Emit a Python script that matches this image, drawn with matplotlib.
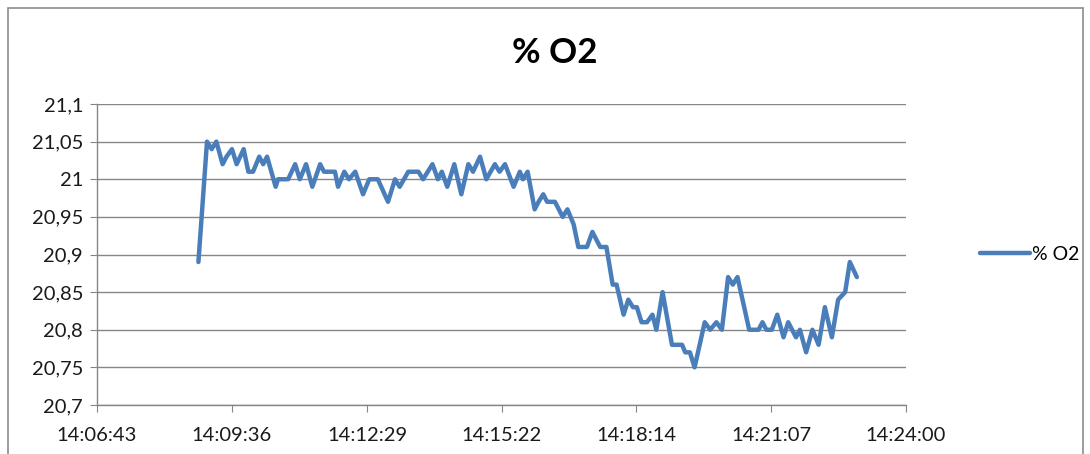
import matplotlib.pyplot as plt
from matplotlib.ticker import FixedLocator, FuncFormatter
from matplotlib.patches import Rectangle

# Messwerte O2-Sensor
zeit = [
    "14:08:53", "14:09:04", "14:09:10", "14:09:16", "14:09:24", "14:09:29",
    "14:09:36", "14:09:42", "14:09:51", "14:09:57", "14:10:03", "14:10:11",
    "14:10:16", "14:10:21", "14:10:32", "14:10:35", "14:10:48", "14:10:57",
    "14:11:03", "14:11:11", "14:11:19", "14:11:29", "14:11:34", "14:11:48",
    "14:11:52", "14:12:00", "14:12:06", "14:12:14", "14:12:24", "14:12:32",
    "14:12:43", "14:12:56", "14:13:05", "14:13:11", "14:13:22", "14:13:35",
    "14:13:41", "14:13:53", "14:14:00", "14:14:05", "14:14:12", "14:14:21",
    "14:14:30", "14:14:39", "14:14:45", "14:14:54", "14:15:02", "14:15:13",
    "14:15:19", "14:15:26", "14:15:37", "14:15:45", "14:15:49", "14:15:55",
    "14:16:04", "14:16:09", "14:16:15", "14:16:20", "14:16:30", "14:16:40",
    "14:16:46", "14:16:54", "14:17:00", "14:17:11", "14:17:18", "14:17:28",
    "14:17:36", "14:17:44", "14:17:49", "14:17:58", "14:18:04", "14:18:10",
    "14:18:15", "14:18:21", "14:18:28", "14:18:35", "14:18:40", "14:18:48",
    "14:19:00", "14:19:13", "14:19:17", "14:19:23", "14:19:29", "14:19:42",
    "14:19:49", "14:19:57", "14:20:04", "14:20:12", "14:20:18", "14:20:24",
    "14:20:39", "14:20:51", "14:20:56", "14:21:01", "14:21:08", "14:21:15",
    "14:21:23", "14:21:29", "14:21:39", "14:21:44", "14:21:52", "14:22:00",
    "14:22:08", "14:22:16", "14:22:25", "14:22:33", "14:22:42", "14:22:48",
    "14:22:57",
]
o2 = [
    20.89, 21.05, 21.04, 21.05, 21.02, 21.03,
    21.04, 21.02, 21.04, 21.01, 21.01, 21.03,
    21.02, 21.03, 20.99, 21.00, 21.00, 21.02,
    21.00, 21.02, 20.99, 21.02, 21.01, 21.01,
    20.99, 21.01, 21.00, 21.01, 20.98, 21.00,
    21.00, 20.97, 21.00, 20.99, 21.01, 21.01,
    21.00, 21.02, 21.00, 21.01, 20.99, 21.02,
    20.98, 21.02, 21.01, 21.03, 21.00, 21.02,
    21.01, 21.02, 20.99, 21.01, 21.00, 21.01,
    20.96, 20.97, 20.98, 20.97, 20.97, 20.95,
    20.96, 20.94, 20.91, 20.91, 20.93, 20.91,
    20.91, 20.86, 20.86, 20.82, 20.84, 20.83,
    20.83, 20.81, 20.81, 20.82, 20.80, 20.85,
    20.78, 20.78, 20.77, 20.77, 20.75, 20.81,
    20.80, 20.81, 20.80, 20.87, 20.86, 20.87,
    20.80, 20.80, 20.81, 20.80, 20.80, 20.82,
    20.79, 20.81, 20.79, 20.80, 20.77, 20.80,
    20.78, 20.83, 20.79, 20.84, 20.85, 20.89,
    20.87,
]
x_ticks = ["14:06:43", "14:09:36", "14:12:29", "14:15:22", "14:18:14", "14:21:07", "14:24:00"]
y_ticks = [20.7, 20.75, 20.8, 20.85, 20.9, 20.95, 21.0, 21.05, 21.1]


def sek(t):
    h, m, s = (int(v) for v in t.split(":"))
    return h * 3600 + m * 60 + s


def hms(x, pos=None):
    x = int(round(x))
    return f"{x // 3600}:{x % 3600 // 60:02d}:{x % 60:02d}"


plt.rcParams['font.family'] = ['Lato', 'DejaVu Sans']
grau = '#868686'
blau = '#4A7EBB'

fig = plt.figure(figsize=(10.9, 4.54), dpi=100)
fig.patches.append(Rectangle((8 / 1090, -0.1), 1075 / 1090, 1.1 - 8 / 454,
                             transform=fig.transFigure, fill=False,
                             edgecolor='#8C8C8C', linewidth=1.2))

ax = fig.add_axes([97 / 1090, 1 - 405 / 454, 809 / 1090, 301 / 454])
xs = [sek(t) for t in zeit]
ax.plot(xs, o2, color=blau, linewidth=3.2, solid_joinstyle='round',
        solid_capstyle='round', label='% O2')

ax.set_xlim(sek(x_ticks[0]), sek(x_ticks[-1]))
ax.set_ylim(y_ticks[0], y_ticks[-1])
ax.xaxis.set_major_locator(FixedLocator([sek(t) for t in x_ticks]))
ax.xaxis.set_major_formatter(FuncFormatter(hms))
ax.yaxis.set_major_locator(FixedLocator(y_ticks))
ax.yaxis.set_major_formatter(FuncFormatter(lambda v, p: f"{v:g}".replace('.', ',')))

ax.grid(axis='y', color=grau, linewidth=1.0)
ax.set_axisbelow(True)
for s in ['top', 'right']:
    ax.spines[s].set_visible(False)
for s in ['left', 'bottom']:
    ax.spines[s].set_color(grau)
    ax.spines[s].set_linewidth(1.0)
ax.tick_params(axis='both', direction='out', length=5, color=grau,
               labelsize=14.5, labelcolor='#1a1a1a', pad=5)
ax.tick_params(axis='x', pad=11)

fig.text(555 / 1090, 1 - 53 / 454, '% O2', ha='center', va='center',
         fontsize=25, fontweight='bold', color='#000000')

ax.legend(loc='center left', bbox_to_anchor=(972 / 809 - 97 / 809, 0.5),
          frameon=False, fontsize=14, handlelength=2.6, handletextpad=0.1,
          borderaxespad=0)

fig.savefig('out.png', dpi=100)
